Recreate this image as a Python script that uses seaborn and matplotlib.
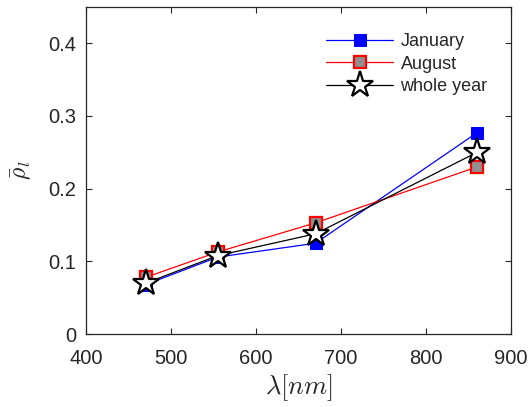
import matplotlib
matplotlib.use("Agg")
import matplotlib.pyplot as plt
import seaborn as sns
import pandas as pd

wavelength = [470, 555, 670, 860]
january = [0.068, 0.106, 0.125, 0.277]
january_err = [0.003, 0.004, 0.008, 0.003]
august = [0.078, 0.113, 0.153, 0.230]
august_err = [0.003, 0.004, 0.004, 0.008]
whole_year = [0.070, 0.108, 0.138, 0.250]
whole_year_err = [0.003, 0.003, 0.005, 0.006]

sns.set_theme(style="white")
plt.rcParams['font.family'] = ['Liberation Sans', 'DejaVu Sans']
plt.rcParams['mathtext.fontset'] = 'cm'

fig = plt.figure(figsize=(5.29, 4.07), dpi=100)
ax = fig.add_axes([0.1626, 0.179, 0.8034, 0.804])

series = [
    ("January", january, january_err, dict(color="#0000ff", marker="s", markersize=9,
                                            markerfacecolor="#0000ff", markeredgecolor="#0000ff")),
    ("August", august, august_err, dict(color="#ff0000", marker="s", markersize=9,
                                         markerfacecolor="#909090", markeredgecolor="#ff0000",
                                         markeredgewidth=1.6)),
    ("whole year", whole_year, whole_year_err, dict(color="#000000", marker="*", markersize=20,
                                                   markerfacecolor="white", markeredgecolor="black",
                                                   markeredgewidth=1.6)),
]

for name, vals, errs, style in series:
    df = pd.DataFrame({"wl": wavelength, "v": vals})
    ax.errorbar(wavelength, vals, yerr=errs, fmt="none", ecolor=style["markerfacecolor"]
                if name == "August" else style["color"], elinewidth=1.0, capsize=0, zorder=2)
    sns.lineplot(data=df, x="wl", y="v", ax=ax, label=name, linewidth=0.9, zorder=3, **style)

ax.set_xlim(400, 900)
ax.set_ylim(0, 0.45)
ax.set_xticks([400, 500, 600, 700, 800, 900])
ax.set_yticks([0, 0.1, 0.2, 0.3, 0.4])
ax.set_yticklabels(["0", "0.1", "0.2", "0.3", "0.4"])
ax.tick_params(direction="in", length=4, width=0.8, labelsize=14.5, colors="#262626",
               top=True, right=True, bottom=True, left=True)
ax.tick_params(axis="x", pad=11)
ax.tick_params(axis="y", pad=7)
for s in ax.spines.values():
    s.set_visible(True)
    s.set_color("#262626")
    s.set_linewidth(0.9)

ax.set_xlabel(r"$\lambda[nm]$", fontsize=19, color="#262626", labelpad=3)
ax.set_ylabel(r"$\bar{\rho}_l$", fontsize=17, color="#262626", labelpad=10)

leg = ax.legend(loc="upper right", bbox_to_anchor=(0.945, 0.92), frameon=False,
                fontsize=13, handlelength=3.7, labelspacing=0.3, handletextpad=0.4,
                borderaxespad=0, borderpad=0)

fig.savefig("out.png", dpi=100)
